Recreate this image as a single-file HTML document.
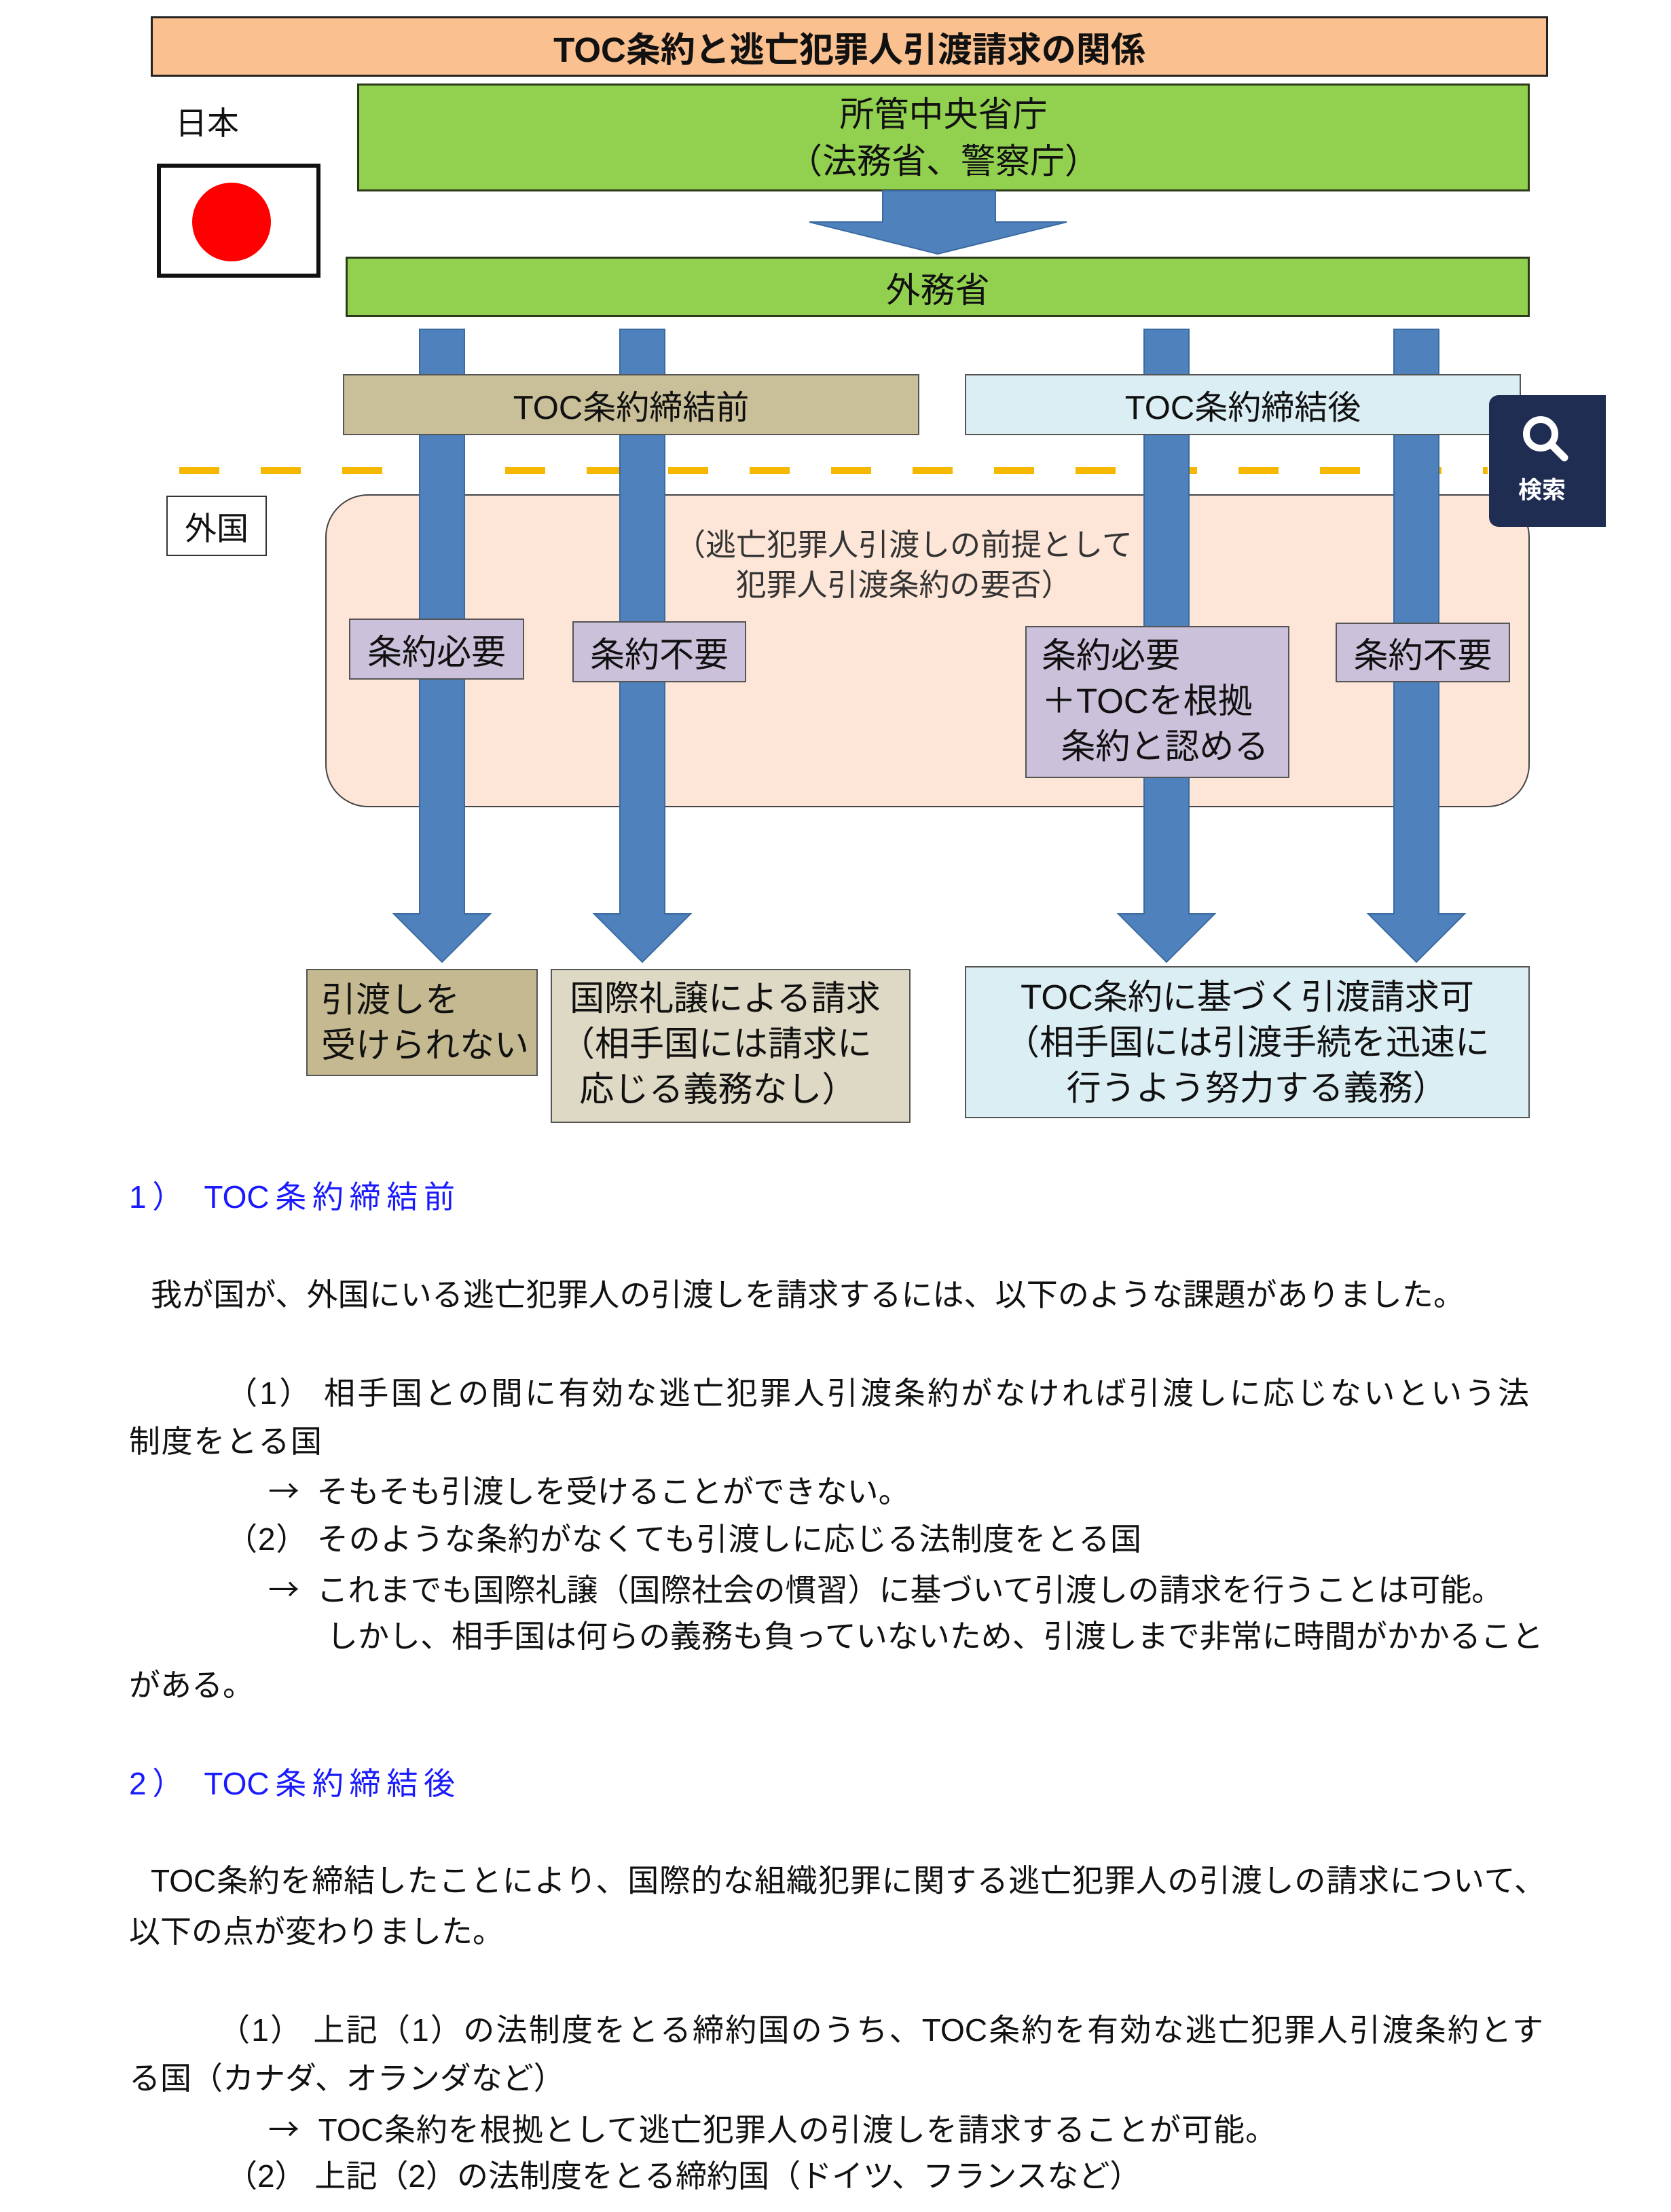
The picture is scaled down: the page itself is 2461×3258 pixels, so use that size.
<!DOCTYPE html>
<html><head><meta charset="utf-8">
<style>
body{margin:0;width:2461px;height:3258px;background:#fff;position:relative;overflow:hidden;font-family:"Liberation Sans","Noto Sans CJK JP",sans-serif;color:#111}
.a{position:absolute;box-sizing:border-box}
.c{display:flex;align-items:center;justify-content:center;text-align:center}
.t{position:absolute;white-space:nowrap;font-size:46px;line-height:60px}
.j{position:absolute;font-size:46px;line-height:60px;text-align:justify;text-align-last:justify;white-space:nowrap;overflow:visible}
.blue{color:#1a1aff}
.ar{font-family:"Noto Sans CJK JP",sans-serif}
</style></head><body>
<div class="a c" style="left:222px;top:24px;width:2058px;height:89px;background:#fbc08f;border:3px solid #222;font-size:51px;font-weight:bold">TOC条約と逃亡犯罪人引渡請求の関係</div>
<div class="t" style="left:258px;top:152px;font-size:47px">日本</div>
<div class="a" style="left:231px;top:241px;width:241px;height:168px;border:6px solid #111;background:#fff"></div>
<div class="a" style="left:283px;top:269px;width:116px;height:116px;border-radius:50%;background:#f00"></div>
<div class="a c" style="left:526px;top:123px;width:1727px;height:159px;background:#92d050;border:3px solid #2a3a1a;font-size:51px;line-height:69px">所管中央省庁<br>（法務省、警察庁）</div>
<svg class="a" style="left:0;top:0" width="2461" height="400">
<polygon points="1300,281 1466,281 1466,327 1571,327 1381,374 1192,327 1300,327" fill="#4f81bd" stroke="#3a6aa0" stroke-width="2"/>
</svg>
<div class="a c" style="left:509px;top:378px;width:1744px;height:89px;background:#92d050;border:3px solid #2a3a1a;font-size:51px">外務省</div>
<div class="a" style="left:264px;top:688px;width:1927px;height:10px;background:repeating-linear-gradient(90deg,#f5b700 0 59px,transparent 59px 120px)"></div>
<div class="a c" style="left:245px;top:730px;width:148px;height:89px;border:2px solid #333;background:#fff;font-size:47px">外国</div>
<div class="a" style="left:479px;top:728px;width:1774px;height:461px;background:#fde6d8;border:2px solid #444;border-radius:63px"></div>
<div class="a c" style="left:913px;top:771px;width:836px;height:122px;font-size:45px;line-height:59px;color:#333">（逃亡犯罪人引渡しの前提として<br>犯罪人引渡条約の要否）</div>
<svg class="a" style="left:0;top:0" width="2461" height="1440">
<g fill="#4f81bd" stroke="#3a6aa0" stroke-width="2">
<polygon points="618,485 684,485 684,1346 722,1346 651,1417 580,1346 618,1346"/>
<polygon points="913,485 979,485 979,1346 1017,1346 946,1417 875,1346 913,1346"/>
<polygon points="1685,485 1751,485 1751,1346 1789,1346 1718,1417 1647,1346 1685,1346"/>
<polygon points="2053,485 2119,485 2119,1346 2157,1346 2086,1417 2015,1346 2053,1346"/>
</g></svg>
<div class="a c" style="left:505px;top:551px;width:849px;height:90px;background:#c9bf98;border:2px solid #555;font-size:49px">TOC条約締結前</div>
<div class="a c" style="left:1421px;top:551px;width:819px;height:90px;background:#dbeef4;border:2px solid #555;font-size:49px">TOC条約締結後</div>
<div class="a c" style="left:514px;top:911px;width:258px;height:90px;background:#ccc1da;border:2px solid #555;font-size:51px">条約必要</div>
<div class="a c" style="left:843px;top:915px;width:256px;height:90px;background:#ccc1da;border:2px solid #555;font-size:51px">条約不要</div>
<div class="a" style="left:1510px;top:922px;width:389px;height:224px;background:#ccc1da;border:2px solid #555;font-size:51px;line-height:67px;padding:8px 0 0 22px;white-space:nowrap">条約必要<br>＋TOCを根拠<br>&nbsp;&nbsp;条約と認める</div>
<div class="a c" style="left:1967px;top:917px;width:257px;height:88px;background:#ccc1da;border:2px solid #555;font-size:51px">条約不要</div>
<div class="a" style="left:451px;top:1427px;width:341px;height:158px;background:#c4b990;border:2px solid #555;font-size:51px;line-height:67px;padding:10px 0 0 20px;white-space:nowrap">引渡しを<br>受けられない</div>
<div class="a" style="left:811px;top:1427px;width:530px;height:227px;background:#ddd9c4;border:2px solid #555;font-size:51px;line-height:67px;padding:8px 0 0 12px;white-space:nowrap">&nbsp;国際礼譲による請求<br>（相手国には請求に<br>&nbsp;&nbsp;応じる義務なし）</div>
<div class="a c" style="left:1421px;top:1423px;width:832px;height:224px;background:#dbeef4;border:2px solid #555;font-size:51px;line-height:67px;white-space:nowrap">TOC条約に基づく引渡請求可<br>（相手国には引渡手続を迅速に<br>&nbsp;&nbsp;行うよう努力する義務）</div>
<div class="a" style="left:2193px;top:582px;width:172px;height:194px;background:#1f2d52;border-radius:14px 0 0 14px"></div>
<svg class="a" style="left:2236px;top:606px" width="80" height="80"><circle cx="33" cy="33" r="21" fill="none" stroke="#fff" stroke-width="10"/><line x1="49" y1="49" x2="68" y2="68" stroke="#fff" stroke-width="11" stroke-linecap="round"/></svg>
<div class="t" style="left:2236px;top:698px;color:#fff;font-size:35px;line-height:50px;font-weight:bold">検索</div>

<div class="j blue" style="left:190px;width:480px;top:1733px">1）&nbsp;TOC条約締結前</div>
<div class="j" style="left:222px;width:1935px;top:1877px">我が国が、外国にいる逃亡犯罪人の引渡しを請求するには、以下のような課題がありました。</div>
<div class="j" style="left:333px;width:1919px;top:2022px">（1） 相手国との間に有効な逃亡犯罪人引渡条約がなければ引渡しに応じないという法</div>
<div class="j" style="left:190px;width:284px;top:2093px">制度をとる国</div>
<div class="j" style="left:395px;width:911px;top:2164px"><span class="ar">→</span>&nbsp;&nbsp;そもそも引渡しを受けることができない。</div>
<div class="j" style="left:333px;width:1348px;top:2237px">（2） そのような条約がなくても引渡しに応じる法制度をとる国</div>
<div class="j" style="left:395px;width:1816px;top:2309px"><span class="ar">→</span>&nbsp;&nbsp;これまでも国際礼譲（国際社会の慣習）に基づいて引渡しの請求を行うことは可能。</div>
<div class="j" style="left:481px;width:1790px;top:2380px">しかし、相手国は何らの義務も負っていないため、引渡しまで非常に時間がかかること</div>
<div class="j" style="left:190px;width:164px;top:2452px">がある。</div>
<div class="j blue" style="left:190px;width:480px;top:2597px">2）&nbsp;TOC条約締結後</div>
<div class="j" style="left:222px;width:2054px;top:2740px">TOC条約を締結したことにより、国際的な組織犯罪に関する逃亡犯罪人の引渡しの請求について、</div>
<div class="j" style="left:190px;width:536px;top:2815px">以下の点が変わりました。</div>
<div class="j" style="left:322px;width:1951px;top:2960px">（1） 上記（1）の法制度をとる締約国のうち、TOC条約を有効な逃亡犯罪人引渡条約とす</div>
<div class="j" style="left:190px;width:611px;top:3031px">る国（カナダ、オランダなど）</div>
<div class="j" style="left:395px;width:1485px;top:3104px"><span class="ar">→</span>&nbsp;&nbsp;TOC条約を根拠として逃亡犯罪人の引渡しを請求することが可能。</div>
<div class="j" style="left:333px;width:1273px;top:3175px">（2） 上記（2）の法制度をとる締約国（ドイツ、フランスなど）</div>
</body></html>
